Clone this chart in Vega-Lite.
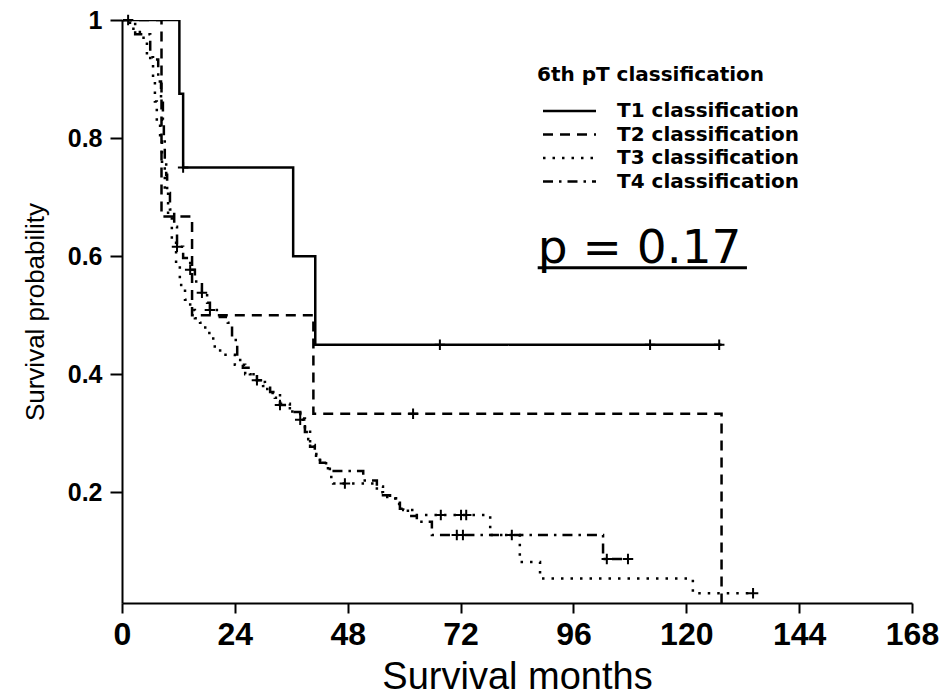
{
  "$schema": "https://vega.github.io/schema/vega-lite/v6.json",
  "width": 790,
  "height": 583,
  "autosize": {"type": "none"},
  "padding": {"left": 122, "top": 20, "right": 29, "bottom": 95},
  "background": "white",
  "config": {
    "view": {"stroke": null},
    "font": "Liberation Sans",
    "axis": {
      "grid": false,
      "domainColor": "black",
      "domainWidth": 2,
      "tickColor": "black",
      "tickWidth": 2,
      "labelColor": "black",
      "titleColor": "black",
      "labelFont": "Liberation Sans",
      "titleFont": "Liberation Sans",
      "titleFontWeight": "normal"
    }
  },
  "datasets": {
    "curves": [
      {"group": "T1 classification", "month": 0, "survival": 1},
      {"group": "T1 classification", "month": 12.2, "survival": 0.875},
      {"group": "T1 classification", "month": 13.0, "survival": 0.75},
      {"group": "T1 classification", "month": 36.4, "survival": 0.6},
      {"group": "T1 classification", "month": 41.1, "survival": 0.45},
      {"group": "T1 classification", "month": 127.5, "survival": 0.45},

      {"group": "T2 classification", "month": 0, "survival": 1},
      {"group": "T2 classification", "month": 8.4, "survival": 0.667},
      {"group": "T2 classification", "month": 14.9, "survival": 0.5},
      {"group": "T2 classification", "month": 40.7, "survival": 0.333},
      {"group": "T2 classification", "month": 127.5, "survival": 0},

      {"group": "T3 classification", "month": 0, "survival": 1},
      {"group": "T3 classification", "month": 1.7, "survival": 0.985},
      {"group": "T3 classification", "month": 3.8, "survival": 0.97},
      {"group": "T3 classification", "month": 5.3, "survival": 0.937},
      {"group": "T3 classification", "month": 6.6, "survival": 0.896},
      {"group": "T3 classification", "month": 7.0, "survival": 0.862},
      {"group": "T3 classification", "month": 7.4, "survival": 0.828},
      {"group": "T3 classification", "month": 8.1, "survival": 0.794},
      {"group": "T3 classification", "month": 8.5, "survival": 0.76},
      {"group": "T3 classification", "month": 9.1, "survival": 0.712},
      {"group": "T3 classification", "month": 9.8, "survival": 0.67},
      {"group": "T3 classification", "month": 10.6, "survival": 0.628},
      {"group": "T3 classification", "month": 11.5, "survival": 0.585},
      {"group": "T3 classification", "month": 12.3, "survival": 0.551},
      {"group": "T3 classification", "month": 13.4, "survival": 0.526},
      {"group": "T3 classification", "month": 14.5, "survival": 0.509},
      {"group": "T3 classification", "month": 15.5, "survival": 0.495},
      {"group": "T3 classification", "month": 16.6, "survival": 0.487},
      {"group": "T3 classification", "month": 17.7, "survival": 0.47},
      {"group": "T3 classification", "month": 19.4, "survival": 0.447},
      {"group": "T3 classification", "month": 20.4, "survival": 0.44},
      {"group": "T3 classification", "month": 21.5, "survival": 0.433},
      {"group": "T3 classification", "month": 24.0, "survival": 0.416},
      {"group": "T3 classification", "month": 26.2, "survival": 0.4},
      {"group": "T3 classification", "month": 28.7, "survival": 0.387},
      {"group": "T3 classification", "month": 30.4, "survival": 0.375},
      {"group": "T3 classification", "month": 31.5, "survival": 0.368},
      {"group": "T3 classification", "month": 33.6, "survival": 0.35},
      {"group": "T3 classification", "month": 35.7, "survival": 0.337},
      {"group": "T3 classification", "month": 37.9, "survival": 0.325},
      {"group": "T3 classification", "month": 38.9, "survival": 0.305},
      {"group": "T3 classification", "month": 40.0, "survival": 0.28},
      {"group": "T3 classification", "month": 41.0, "survival": 0.265},
      {"group": "T3 classification", "month": 42.1, "survival": 0.252},
      {"group": "T3 classification", "month": 43.4, "survival": 0.24},
      {"group": "T3 classification", "month": 44.2, "survival": 0.226},
      {"group": "T3 classification", "month": 44.9, "survival": 0.215},
      {"group": "T3 classification", "month": 54.2, "survival": 0.2},
      {"group": "T3 classification", "month": 55.5, "survival": 0.192},
      {"group": "T3 classification", "month": 58.1, "survival": 0.18},
      {"group": "T3 classification", "month": 59.8, "survival": 0.17},
      {"group": "T3 classification", "month": 62.7, "survival": 0.1615},
      {"group": "T3 classification", "month": 78.3, "survival": 0.1276},
      {"group": "T3 classification", "month": 84.6, "survival": 0.082},
      {"group": "T3 classification", "month": 88.9, "survival": 0.054},
      {"group": "T3 classification", "month": 121.4, "survival": 0.029},
      {"group": "T3 classification", "month": 134.2, "survival": 0.029},

      {"group": "T4 classification", "month": 0, "survival": 1},
      {"group": "T4 classification", "month": 2.8, "survival": 0.976},
      {"group": "T4 classification", "month": 6.0, "survival": 0.933},
      {"group": "T4 classification", "month": 7.7, "survival": 0.896},
      {"group": "T4 classification", "month": 8.3, "survival": 0.862},
      {"group": "T4 classification", "month": 8.7, "survival": 0.831},
      {"group": "T4 classification", "month": 8.9, "survival": 0.797},
      {"group": "T4 classification", "month": 9.1, "survival": 0.763},
      {"group": "T4 classification", "month": 9.4, "survival": 0.738},
      {"group": "T4 classification", "month": 9.6, "survival": 0.707},
      {"group": "T4 classification", "month": 10.2, "survival": 0.679},
      {"group": "T4 classification", "month": 11.1, "survival": 0.65},
      {"group": "T4 classification", "month": 11.7, "survival": 0.616},
      {"group": "T4 classification", "month": 13.0, "survival": 0.597},
      {"group": "T4 classification", "month": 14.5, "survival": 0.577},
      {"group": "T4 classification", "month": 15.5, "survival": 0.557},
      {"group": "T4 classification", "month": 17.0, "survival": 0.538},
      {"group": "T4 classification", "month": 18.1, "survival": 0.521},
      {"group": "T4 classification", "month": 18.7, "survival": 0.509},
      {"group": "T4 classification", "month": 20.8, "survival": 0.497},
      {"group": "T4 classification", "month": 22.5, "survival": 0.487},
      {"group": "T4 classification", "month": 23.4, "survival": 0.458},
      {"group": "T4 classification", "month": 24.5, "survival": 0.424},
      {"group": "T4 classification", "month": 25.7, "survival": 0.411},
      {"group": "T4 classification", "month": 27.2, "survival": 0.4},
      {"group": "T4 classification", "month": 28.7, "survival": 0.39},
      {"group": "T4 classification", "month": 30.0, "survival": 0.38},
      {"group": "T4 classification", "month": 31.5, "survival": 0.37},
      {"group": "T4 classification", "month": 32.5, "survival": 0.36},
      {"group": "T4 classification", "month": 33.6, "survival": 0.348},
      {"group": "T4 classification", "month": 35.7, "survival": 0.336},
      {"group": "T4 classification", "month": 37.9, "survival": 0.323},
      {"group": "T4 classification", "month": 38.9, "survival": 0.302},
      {"group": "T4 classification", "month": 39.6, "survival": 0.29},
      {"group": "T4 classification", "month": 40.0, "survival": 0.277},
      {"group": "T4 classification", "month": 41.0, "survival": 0.262},
      {"group": "T4 classification", "month": 42.1, "survival": 0.25},
      {"group": "T4 classification", "month": 43.8, "survival": 0.236},
      {"group": "T4 classification", "month": 51.3, "survival": 0.22},
      {"group": "T4 classification", "month": 54.2, "survival": 0.21},
      {"group": "T4 classification", "month": 55.5, "survival": 0.195},
      {"group": "T4 classification", "month": 57.0, "survival": 0.19},
      {"group": "T4 classification", "month": 59.1, "survival": 0.172},
      {"group": "T4 classification", "month": 60.8, "survival": 0.16},
      {"group": "T4 classification", "month": 62.7, "survival": 0.15},
      {"group": "T4 classification", "month": 65.9, "survival": 0.1276},
      {"group": "T4 classification", "month": 102.3, "survival": 0.087},
      {"group": "T4 classification", "month": 107.6, "survival": 0.087}
    ],
    "censored": [
      {"group": "T1 classification", "month": 13.0, "survival": 0.75},
      {"group": "T1 classification", "month": 67.6, "survival": 0.45},
      {"group": "T1 classification", "month": 112.3, "survival": 0.45},
      {"group": "T1 classification", "month": 127.0, "survival": 0.45},
      {"group": "T2 classification", "month": 61.9, "survival": 0.333},
      {"group": "T3 classification", "month": 1.3, "survival": 1.0},
      {"group": "T3 classification", "month": 47.4, "survival": 0.215},
      {"group": "T3 classification", "month": 67.8, "survival": 0.1615},
      {"group": "T3 classification", "month": 72.1, "survival": 0.1615},
      {"group": "T3 classification", "month": 73.2, "survival": 0.1615},
      {"group": "T3 classification", "month": 82.9, "survival": 0.1276},
      {"group": "T3 classification", "month": 134.2, "survival": 0.029},
      {"group": "T4 classification", "month": 11.7, "survival": 0.616},
      {"group": "T4 classification", "month": 14.5, "survival": 0.577},
      {"group": "T4 classification", "month": 17.0, "survival": 0.538},
      {"group": "T4 classification", "month": 18.7, "survival": 0.509},
      {"group": "T4 classification", "month": 28.7, "survival": 0.39},
      {"group": "T4 classification", "month": 33.6, "survival": 0.348},
      {"group": "T4 classification", "month": 37.9, "survival": 0.323},
      {"group": "T4 classification", "month": 71.2, "survival": 0.1276},
      {"group": "T4 classification", "month": 72.5, "survival": 0.1276},
      {"group": "T4 classification", "month": 103.1, "survival": 0.087},
      {"group": "T4 classification", "month": 107.6, "survival": 0.087}
    ],
    "logrank": [
      {"label": "p = 0.17", "month": 88.4, "month_end": 132.9, "survival": 0.589}
    ]
  },
  "layer": [
    {
      "data": {"name": "curves"},
      "mark": {"type": "line", "interpolate": "step-after", "color": "black", "strokeWidth": 2.5, "clip": true},
      "encoding": {
        "x": {
          "field": "month",
          "type": "quantitative",
          "scale": {"domain": [0, 168], "nice": false, "zero": false},
          "axis": {
            "title": "Survival months",
            "values": [0, 24, 48, 72, 96, 120, 144, 168],
            "tickSize": 10,
            "labelFontSize": 32,
            "labelFontWeight": "bold",
            "labelPadding": 6,
            "labelFlush": false,
            "labelOverlap": false,
            "titleFontSize": 38,
            "titleBaseline": "alphabetic",
            "titleY": 85
          }
        },
        "y": {
          "field": "survival",
          "type": "quantitative",
          "scale": {"domain": [0.0125, 1], "nice": false, "zero": false},
          "axis": {
            "title": "Survival probability",
            "values": [0.2, 0.4, 0.6, 0.8, 1],
            "format": "~g",
            "tickSize": 12,
            "labelFontSize": 25,
            "labelFontWeight": "bold",
            "labelPadding": 8,
            "labelFlush": false,
            "labelOverlap": false,
            "titleFontSize": 26,
            "titleBaseline": "middle",
            "titleX": -87,
            "titleY": 291.5
          }
        },
        "strokeDash": {
          "field": "group",
          "type": "nominal",
          "scale": {
            "domain": ["T1 classification", "T2 classification", "T3 classification", "T4 classification"],
            "range": [[1, 0], [10, 7], [2.5, 7], [10, 6, 2.5, 6]]
          },
          "legend": {
            "title": "6th pT classification",
            "orient": "none",
            "legendX": 415,
            "legendY": 45,
            "padding": 0,
            "titleFont": "DejaVu Sans",
            "titleFontSize": 20,
            "titleFontWeight": "bold",
            "titleColor": "black",
            "titlePadding": 16,
            "titleLimit": 0,
            "labelFont": "DejaVu Sans",
            "labelFontSize": 20,
            "labelFontWeight": "bold",
            "labelColor": "black",
            "labelLimit": 0,
            "labelOffset": 64,
            "rowPadding": 3.5,
            "symbolType": "M0,0H10.6",
            "symbolSize": 100,
            "symbolOffset": -4,
            "symbolStrokeWidth": 2.5,
            "symbolStrokeColor": "black",
            "symbolFillColor": "transparent"
          }
        }
      }
    },
    {
      "data": {"name": "censored"},
      "mark": {"type": "point", "shape": "M-1,0H1M0,-1V1", "filled": false, "stroke": "black", "strokeWidth": 2, "size": 110, "opacity": 1},
      "encoding": {
        "x": {"field": "month", "type": "quantitative"},
        "y": {"field": "survival", "type": "quantitative"}
      }
    },
    {
      "data": {"name": "logrank"},
      "mark": {"type": "text", "align": "left", "baseline": "alphabetic", "font": "DejaVu Sans", "fontSize": 47, "color": "black"},
      "encoding": {
        "x": {"field": "month", "type": "quantitative"},
        "y": {"field": "survival", "type": "quantitative"},
        "text": {"field": "label"}
      }
    },
    {
      "data": {"name": "logrank"},
      "mark": {"type": "rule", "color": "black", "strokeWidth": 3, "yOffset": 5},
      "encoding": {
        "x": {"field": "month", "type": "quantitative"},
        "x2": {"field": "month_end"},
        "y": {"field": "survival", "type": "quantitative"}
      }
    }
  ]
}
